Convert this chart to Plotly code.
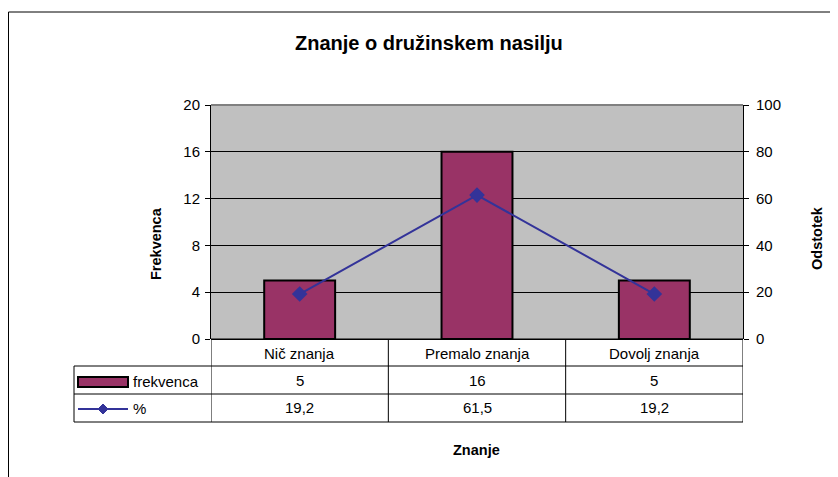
import plotly.graph_objects as go

categories = ["Nič znanja", "Premalo znanja", "Dovolj znanja"]
frekvenca = [5, 16, 5]
odstotek = [19.2, 61.5, 19.2]
odstotek_labels = ["19,2", "61,5", "19,2"]
left_ticks = [0, 4, 8, 12, 16, 20]
right_ticks = [0, 20, 40, 60, 80, 100]

W, H = 838, 477
OFF = 8  # page body margin
FONT = "Liberation Sans, Arial, sans-serif"
BAR_COLOR = "#993366"
LINE_COLOR = "#333399"

# plot area in screen pixels
PX0, PX1, PY0, PY1 = 211, 743, 105, 339


def px(x):
    return (x - OFF) / W


def py(y):
    return 1 - (y - OFF) / H


xs = list(range(len(categories)))

fig = go.Figure()
fig.add_trace(go.Bar(
    x=xs, y=frekvenca, width=0.4, name="frekvenca",
    marker=dict(color=BAR_COLOR, line=dict(color="black", width=2)),
    showlegend=False,
))
fig.add_trace(go.Scatter(
    x=xs, y=odstotek, yaxis="y2", mode="lines+markers", name="%",
    line=dict(color=LINE_COLOR, width=2),
    marker=dict(symbol="diamond", size=12, color=LINE_COLOR),
    showlegend=False,
))

shapes = []
annotations = []
ln = dict(color="black", width=1)

# outer chart border
shapes.append(dict(type="line", xref="paper", yref="paper", x0=px(8.5), x1=px(8.5), y0=py(12), y1=0, line=ln))
shapes.append(dict(type="line", xref="paper", yref="paper", x0=px(8.5), x1=1.0, y0=py(12), y1=py(12), line=ln))

# plot area top edge (grey)
shapes.append(dict(type="line", xref="paper", yref="paper", x0=px(PX0), x1=px(PX1), y0=py(PY0), y1=py(PY0),
                   line=dict(color="#808080", width=2), layer="above"))

# data table
row_lines = [339, 366, 394, 422]
for i, ry in enumerate(row_lines):
    x_start = PX0 if i == 0 else 74
    shapes.append(dict(type="line", xref="paper", yref="paper", x0=px(x_start), x1=px(PX1),
                       y0=py(ry), y1=py(ry), line=ln))
for b in [-0.5, 0.5, 1.5, 2.5]:
    shapes.append(dict(type="line", xref="x", yref="paper", x0=b, x1=b,
                       y0=py(339), y1=py(422), line=ln))
shapes.append(dict(type="line", xref="paper", yref="paper", x0=px(74), x1=px(74),
                   y0=py(366), y1=py(422), line=ln))

# legend keys in table
shapes.append(dict(type="rect", xref="paper", yref="paper", x0=px(78), x1=px(128),
                   y0=py(387), y1=py(377), fillcolor=BAR_COLOR, line=dict(color="black", width=2)))
shapes.append(dict(type="line", xref="paper", yref="paper", x0=px(78), x1=px(128),
                   y0=py(409), y1=py(409), line=dict(color=LINE_COLOR, width=2)))
d = 5
shapes.append(dict(type="path", xref="paper", yref="paper",
                   path=f"M {px(103-d)} {py(409)} L {px(103)} {py(409-d)} L {px(103+d)} {py(409)} L {px(103)} {py(409+d)} Z",
                   fillcolor=LINE_COLOR, line=dict(color=LINE_COLOR, width=1)))

tfont = dict(family=FONT, size=15, color="black")
annotations.append(dict(xref="paper", yref="paper", x=px(131), y=py(381), text="frekvenca",
                        showarrow=False, xanchor="left", yanchor="middle", font=tfont))
annotations.append(dict(xref="paper", yref="paper", x=px(131), y=py(408), text="%",
                        showarrow=False, xanchor="left", yanchor="middle", font=tfont))
for i, c in enumerate(categories):
    annotations.append(dict(xref="x", yref="paper", x=i, y=py(353), text=c, showarrow=False,
                            xanchor="center", yanchor="middle", font=tfont))
    annotations.append(dict(xref="x", yref="paper", x=i, y=py(380), text=str(frekvenca[i]), showarrow=False,
                            xanchor="center", yanchor="middle", font=tfont))
    annotations.append(dict(xref="x", yref="paper", x=i, y=py(407), text=odstotek_labels[i], showarrow=False,
                            xanchor="center", yanchor="middle", font=tfont))

# titles
annotations.append(dict(xref="paper", yref="paper", x=px(429), y=py(43), text="<b>Znanje o družinskem nasilju</b>",
                        showarrow=False, xanchor="center", yanchor="middle",
                        font=dict(family=FONT, size=20, color="black")))
bfont = dict(family=FONT, size=14.5, color="black")
annotations.append(dict(xref="paper", yref="paper", x=px(476), y=py(450), text="<b>Znanje</b>",
                        showarrow=False, xanchor="center", yanchor="middle", font=bfont))
annotations.append(dict(xref="paper", yref="paper", x=px(156), y=py(244), text="<b>Frekvenca</b>",
                        showarrow=False, xanchor="center", yanchor="middle", textangle=-90, font=bfont))
annotations.append(dict(xref="paper", yref="paper", x=px(817), y=py(238), text="<b>Odstotek</b>",
                        showarrow=False, xanchor="center", yanchor="middle", textangle=-90, font=bfont))

fig.update_layout(
    width=W, height=H, autosize=False, showlegend=False,
    margin=dict(l=0, r=0, t=0, b=0, pad=0, autoexpand=False),
    paper_bgcolor="white", plot_bgcolor="#C0C0C0",
    font=dict(family=FONT, size=15, color="black"),
    bargap=0.6,
    xaxis=dict(domain=[px(PX0), px(PX1)], range=[-0.5, 2.5], showticklabels=False, ticks="",
               showgrid=False, zeroline=False, showline=False, fixedrange=True, automargin=False),
    yaxis=dict(domain=[py(PY1), py(PY0)], range=[0, 20], tickvals=left_ticks, ticks="outside",
               ticklen=5, tickcolor="black", showline=True, linecolor="black", linewidth=1,
               gridcolor="black", gridwidth=1, zeroline=True, zerolinecolor="black", zerolinewidth=1,
               tickfont=dict(family=FONT, size=15), ticklabelstandoff=2, automargin=False),
    yaxis2=dict(overlaying="y", side="right", range=[0, 100], tickvals=right_ticks, ticks="outside",
                ticklen=5, tickcolor="black", showline=True, linecolor="black", linewidth=1,
                showgrid=False, zeroline=False, tickfont=dict(family=FONT, size=15), ticklabelstandoff=4,
                automargin=False),
    shapes=shapes,
    annotations=annotations,
)

fig.write_html("out.html")
